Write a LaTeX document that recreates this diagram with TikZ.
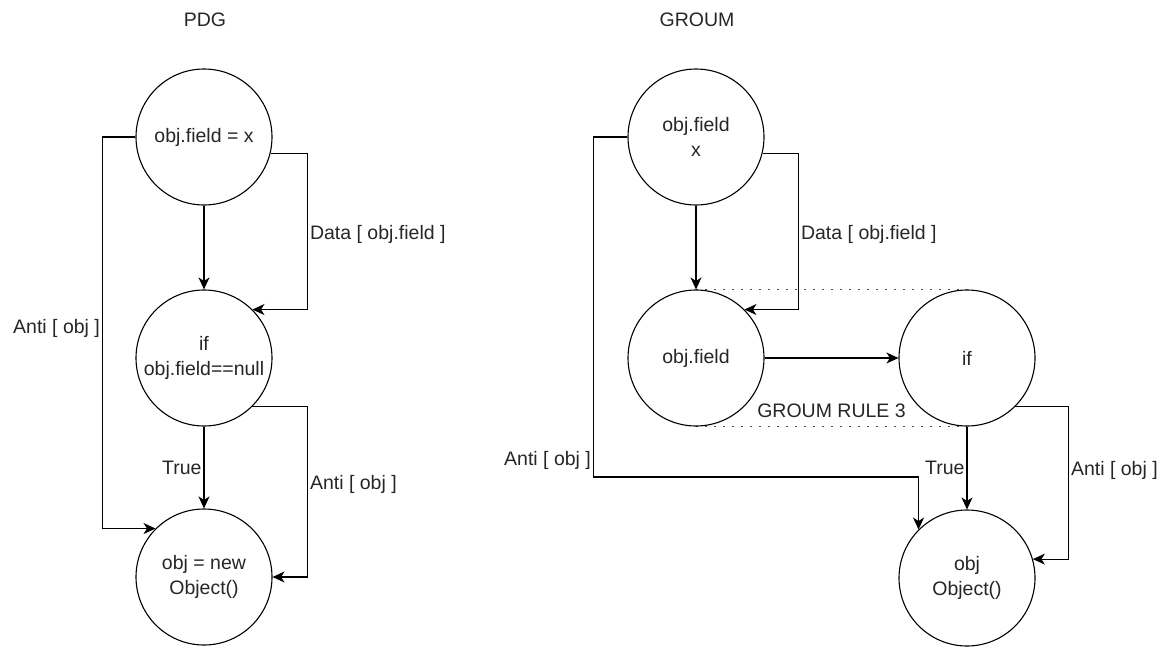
\documentclass[tikz,border=0pt]{standalone}
\usepackage{fontspec}
\setmainfont{Liberation Sans}
\usepackage{tikz}
\usetikzlibrary{arrows.meta,backgrounds}

\definecolor{txt}{gray}{0.15}

\begin{document}
\begin{tikzpicture}[
x=1pt,y=-1pt,
font=\fontsize{19.5}{24.5}\selectfont,
text=txt,
>={Stealth[length=12pt,width=11pt,inset=3.5pt]},
place/.style={
circle,
minimum size=136pt,
inner sep=0pt,
align=center,
line width=1.1pt,
draw=black,
fill=white
},
edge/.style={->,line width=1.1pt},
tag/.style={draw=none,inner sep=2pt},
rule/.style={dash pattern=on 1.6pt off 7.4pt,line width=1.1pt,draw=black!70}
]

\useasboundingbox (0,0) rectangle (1175,648);

% titles
\node[tag] (tpdg) at (205,20) {PDG};
\node[tag] (tgroum) at (697,20) {GROUM};

% PDG
\node[place] (def) at (204,137) {obj.field = x};
\node[place] (cond) at (204,358) {if\\obj.field==null};
\node[place] (new) at (204,577) {obj = new\\Object()};

% GROUM
\node[place] (gdef) at (696,137) {obj.field\\x};
\node[place] (gfield) at (696,358) {obj.field};
\node[place] (gif) at (967,358) {if};
\node[place] (gnew) at (967,578) {obj\\Object()};

\begin{scope}[on background layer]
\draw[rule] (gfield.north) -- (gif.north);
\draw[rule] (gfield.south) -- (gif.south)
  node[tag,midway,above=6pt]{GROUM RULE 3};
\end{scope}

\draw[edge] (def) -- (cond);
\draw[edge] (def.-14) -- ++(37,0) |- (cond.45) node[tag,pos=0.26,right]{Data [ obj.field ]};
\draw[edge] (def.west) -- ++(-33,0) |- (new.135) node[tag,pos=0.245,left]{Anti [ obj ]};
\draw[edge] (cond) -- (new) node[tag,midway,left]{True};
\draw[edge] (cond.-45) -- ++(55,0) |- (new.east) node[tag,pos=0.23,right]{Anti [ obj ]};

\draw[edge] (gdef) -- (gfield);
\draw[edge] (gdef.-14) -- ++(36,0) |- (gfield.45) node[tag,pos=0.26,right]{Data [ obj.field ]};
\draw[edge] (gfield) -- (gif);
\draw[edge] (gdef.west) -- ++(-34,0) -- ++(0,340) node[tag,pos=0.95,left]{Anti [ obj ]} -| (gnew.135);
\draw[edge] (gif) -- (gnew) node[tag,midway,left]{True};
\draw[edge] (gif.-45) -- ++(53,0) |- (gnew.16) node[tag,pos=0.21,right]{Anti [ obj ]};

\end{tikzpicture}
\end{document}
